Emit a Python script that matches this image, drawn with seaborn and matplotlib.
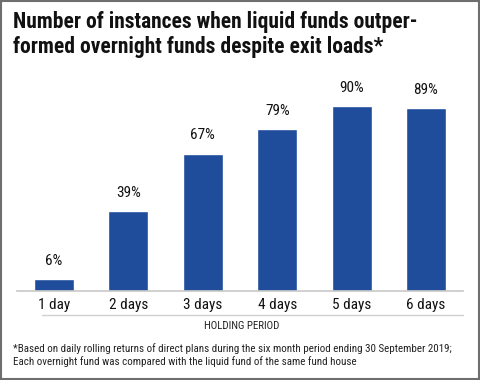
"""Bar chart: liquid vs overnight funds outperformance by holding period."""

import matplotlib
matplotlib.use("Agg")
import matplotlib.pyplot as plt
import pandas as pd
import seaborn as sns
from matplotlib import font_manager
from matplotlib.patches import Rectangle
from matplotlib.lines import Line2D

periods = ["1 day", "2 days", "3 days", "4 days", "5 days", "6 days"]
share_pct = [6, 39, 67, 79, 90, 89]

title_lines = [
    "Number of instances when liquid funds outper-",
    "formed overnight funds despite exit loads*",
]
xlabel = "HOLDING PERIOD"
footnote = [
    "*Based on daily rolling returns of direct plans during the six month period ending 30 September 2019;",
    "Each overnight fund was compared with the liquid fund of the same fund house",
]

BAR = "#1f4d9c"

# pick a condensed face if one is installed, else Roboto
names = {f.name for f in font_manager.fontManager.ttflist}
narrow = [n for n in ("Roboto Condensed", "Liberation Sans Narrow", "Open Sans Condensed")
          if n in names]
FONT = narrow[:1] + ["Roboto", "DejaVu Sans"]
is_narrow = bool(narrow)

sns.set_style("white")
plt.rcParams["font.family"] = FONT

df = pd.DataFrame({"period": periods, "share": share_pct})

fig = plt.figure(figsize=(4.8, 3.8), dpi=100)
ax = fig.add_axes([0.035, 0.234, 0.93, 0.54])
sns.barplot(data=df, x="period", y="share", color=BAR, width=0.54,
            saturation=1, ax=ax)

ax.set_xlim(-0.5, len(periods) - 0.5)
ax.set_ylim(0, 100)
for bars in ax.containers:
    ax.bar_label(bars, labels=[f"{v}%" for v in share_pct], padding=8,
                 fontsize=11 if is_narrow else 10.5, color="#111111")

for side in ("top", "right", "left"):
    ax.spines[side].set_visible(False)
ax.spines["bottom"].set_color("#c8c8c8")
ax.spines["bottom"].set_linewidth(1.2)
ax.set_yticks([])
ax.set_ylabel("")
ax.set_xlabel("")
ax.tick_params(axis="x", length=0, labelsize=11 if is_narrow else 10.5,
               pad=5, colors="#111111")

# thin rule under the tick labels and the axis title
fig.add_artist(Line2D([42 / 480, 463 / 480], [1 - 315 / 380] * 2,
                      color="#d0d0d0", linewidth=1))
fig.text(242 / 480, 1 - 326 / 380, xlabel, ha="center", va="center",
         fontsize=7.8 if is_narrow else 7, color="#222222")

title_size = 15.5 if is_narrow else 12.6
fig.text(13 / 480, 1 - 22 / 380, title_lines[0], fontsize=title_size,
         fontweight="bold", va="center", ha="left", color="#111111")
fig.text(13 / 480, 1 - 47 / 380, title_lines[1], fontsize=title_size,
         fontweight="bold", va="center", ha="left", color="#111111")

foot_size = 7.9 if is_narrow else 6.5
fig.text(13 / 480, 1 - 349 / 380, footnote[0], fontsize=foot_size,
         va="center", ha="left", color="#222222")
fig.text(13 / 480, 1 - 362 / 380, footnote[1], fontsize=foot_size,
         va="center", ha="left", color="#222222")

fig.add_artist(Rectangle((0.002, 0.002), 0.996, 0.995, transform=fig.transFigure,
                         fill=False, edgecolor="#6e6e6e", linewidth=1.5))

fig.savefig("out.png", dpi=100)
